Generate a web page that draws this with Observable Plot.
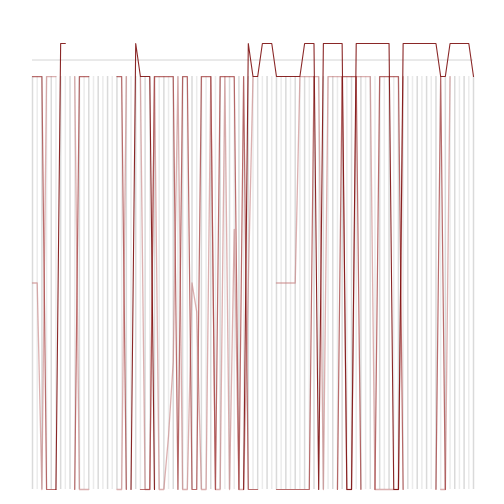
<!DOCTYPE html>
<html>
<head>
<meta charset="utf-8">
<script src="https://cdn.jsdelivr.net/npm/d3@7"></script>
<script src="https://cdn.jsdelivr.net/npm/@observablehq/plot@0.6"></script>
<style>
  html, body { margin: 0; padding: 0; background: #fff; }
  #chart { width: 504px; height: 504px; }
</style>
</head>
<body>
<div id="chart"></div>
<script>
// index positions 0..94
const N = 95;
const _ = null;

// dark series (reaches the 1.08 plateau)
const seriesDark = [
  _, _, _, _, _, 0, 1.08, 1.08, _, _,
  _, _, _, _, _, _, _, _, _, _,
  _, 0, 1.08, 1, 1, 1, 0, _, _, _,
  _, _, _, _, _, _, _, _, _, _,
  _, _, _, _, _, 0, 1.08, 1, 1, 1.08,
  1.08, 1.08, 1, 1, 1, 1, 1, 1, 1.08, 1.08,
  1.08, 0, 1.08, 1.08, 1.08, 1.08, 1.08, 0, 0, 1.08,
  1.08, 1.08, 1.08, 1.08, 1.08, 1.08, 1.08, 0, 0, 1.08,
  1.08, 1.08, 1.08, 1.08, 1.08, 1.08, 1.08, 1, 1, 1.08,
  1.08, 1.08, 1.08, 1.08, 1
];

// medium series (0 / 1)
const seriesMid = [
  1, 1, 1, 0, 0, 0, _, _, _, 0,
  1, 1, 1, _, _, _, _, _, 1, 1,
  0, _, _, 0, 0, 0, 1, 1, 1, 1,
  1, 0, 1, 1, 0, 0, 1, 1, 1, 0,
  1, 1, 1, 1, 0, 1, 0, 0, 0, _,
  _, _, 0, 0, 0, 0, 0, 0, 0, 0,
  1, _, _, _, _, 0, 1, 1, 1, 1,
  0, _, _, 0, 1, 1, 1, 1, 1, 0,
  _, _, _, _, _, _, 0, 1, 0, _,
  _, _, _, _, _
];

// light series (0 / 0.5 / 1 with a few in-between values)
const seriesLight = [
  0.5, 0.5, 0, 1, 1, 1, _, _, _, 1,
  0, 0, 0, _, _, _, _, _, 0, 0,
  1, _, _, 1, 0, 0, 1, 0, 0, 0.13,
  0.31, 1, 0, 0, 0.5, 0.43, 0, 0, 1, 0,
  0, 1, 0, 0.63, 0, 0, 0.5, 1, _, _,
  _, _, 0.5, 0.5, 0.5, 0.5, 0.5, 1, 1, 1,
  1, 1, 0, 1, 1, 1, 1, 0, 0, 1,
  1, 1, 1, 0, 0, 0, 0, 0, 0, 1,
  _, _, _, _, _, _, _, 0, 0, 1,
  _, _, _, _, _
];

const refLevel = [1.04];

const idx = d3.range(N);
const rows = (arr) => arr.map((v, i) => ({i, v}));

const chart = Plot.plot({
  width: 504,
  height: 504,
  marginLeft: 32,
  marginRight: 31,
  marginTop: 43,
  marginBottom: 15,
  x: {domain: [0, N - 1], axis: null},
  y: {domain: [0, 1.08], axis: null},
  marks: [
    Plot.ruleX(idx.filter(i => i % 2 === 0), {x: d => d, y1: 0, y2: 1, stroke: "#dadada", strokeWidth: 1.5}),
    Plot.ruleX(idx.filter(i => i % 2 === 1), {x: d => d, y1: 0, y2: 1, stroke: "#ebebeb", strokeWidth: 1.5}),
    Plot.ruleY(refLevel, {x1: 0, x2: N - 1, stroke: "#d4d4d4", strokeWidth: 1}),
    Plot.line(rows(seriesLight), {x: "i", y: "v", stroke: "#c07070", strokeOpacity: 0.55, strokeWidth: 1.3}),
    Plot.line(rows(seriesMid), {x: "i", y: "v", stroke: "#9c2f2f", strokeOpacity: 0.7, strokeWidth: 1.2}),
    Plot.line(rows(seriesDark), {x: "i", y: "v", stroke: "#7d1010", strokeOpacity: 0.9, strokeWidth: 1.1})
  ]
});
document.getElementById("chart").appendChild(chart);
</script>
</body>
</html>
